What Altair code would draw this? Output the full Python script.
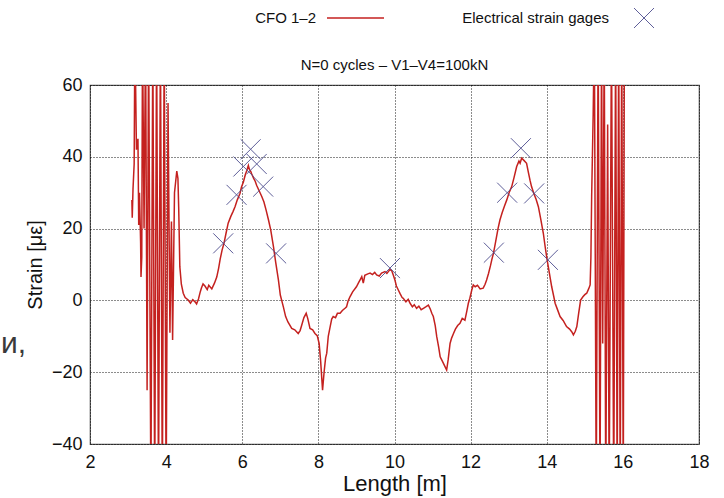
import altair as alt
import pandas as pd

# ---- data ----
length_m = [
    3.10, 3.11, 3.13, 3.16, 3.18, 3.22, 3.26, 3.28, 3.30, 3.33, 3.34, 3.36, 3.38, 3.42, 3.46, 3.50,
    3.54, 3.60, 3.65, 3.70, 3.75, 3.80, 3.85, 3.90, 3.95, 4.00, 4.05, 4.10, 4.14, 4.17, 4.22, 4.28,
    4.31, 4.33, 4.36, 4.40, 4.45, 4.50, 4.58, 4.64, 4.70, 4.76, 4.80, 4.85, 4.90, 4.93, 4.97, 5.02,
    5.08, 5.12, 5.20, 5.27, 5.33, 5.38, 5.42, 5.47, 5.52, 5.57, 5.63, 5.70, 5.76, 5.81, 5.87, 5.94,
    5.98, 6.03, 6.08, 6.12, 6.16, 6.19, 6.22, 6.25, 6.30, 6.34, 6.38, 6.44, 6.51, 6.57, 6.63, 6.69,
    6.75, 6.82, 6.88, 6.95, 7.00, 7.08, 7.14, 7.20, 7.30, 7.38, 7.47, 7.52, 7.56, 7.62, 7.68, 7.72,
    7.78, 7.85, 7.91, 7.97, 8.02, 8.06, 8.11, 8.15, 8.19, 8.22, 8.26, 8.31, 8.35, 8.39, 8.45, 8.50,
    8.57, 8.63, 8.70, 8.74, 8.78, 8.83, 8.90, 9.00, 9.06, 9.10, 9.14, 9.18, 9.22, 9.30, 9.36, 9.42,
    9.48, 9.53, 9.60, 9.66, 9.75, 9.80, 9.88, 9.93, 9.97, 10.01, 10.05, 10.10, 10.15, 10.20, 10.23, 10.30,
    10.36, 10.41, 10.47, 10.52, 10.58, 10.64, 10.70, 10.76, 10.82, 10.89, 10.94, 10.98, 11.02, 11.07, 11.11, 11.16,
    11.20, 11.26, 11.33, 11.37, 11.41, 11.46, 11.50, 11.55, 11.60, 11.66, 11.72, 11.78, 11.85, 11.90, 11.94, 11.98,
    12.03, 12.07, 12.12, 12.18, 12.25, 12.33, 12.38, 12.42, 12.47, 12.52, 12.56, 12.60, 12.66, 12.72, 12.77, 12.83,
    12.89, 12.95, 13.01, 13.08, 13.14, 13.21, 13.27, 13.30, 13.34, 13.40, 13.47, 13.52, 13.56, 13.60, 13.66, 13.72,
    13.78, 13.84, 13.91, 13.96, 14.01, 14.07, 14.13, 14.18, 14.22, 14.28, 14.35, 14.43, 14.52, 14.60, 14.66, 14.70,
    14.75, 14.79, 14.84, 14.89, 14.95, 15.00, 15.05, 15.10, 15.14, 15.16, 15.18, 15.22, 15.25, 15.30, 15.35, 15.40,
    15.44, 15.47, 15.51, 15.55, 15.60, 15.64, 15.70, 15.76, 15.81, 15.85, 15.89, 15.93, 15.97, 16.01, 16.04,
]
strain_cfo = [
    28, 23, 31, 38, 75, 42, 45, 21, 30, 16, 6.5, 12, 75, 20, 75, -25,
    75, -55, 75, -55, 75, -55, 75, -55, 75, -55, 55, -9, 22, -11, 30, 36,
    34, 26, 9.4, 4.5, 2.0, 0.8, 0.1, -0.8, 0.2, -0.4, -1.0, 0.4, 2.5, 3.5, 4.6, 4.0,
    3.0, 4.2, 3.2, 4.8, 6.5, 9.0, 11.5, 14.0, 15.9, 18.5, 21.5, 23.4, 24.8, 26.1, 28.0, 29.8,
    31.6, 33.0, 35.0, 36.2, 37.6, 36.4, 36.0, 35.2, 34.0, 33.2, 32.0, 30.6, 29.0, 27.4, 25.0, 22.4,
    19.5, 15.0, 10.5, 5.7, 1.5, -1.8, -4.5, -6.0, -7.8, -8.2, -9.2, -8.4, -7.0, -4.8, -3.6, -5.0,
    -7.8, -8.2, -9.2, -9.8, -12, -17, -25, -20, -16, -14.7, -10, -7.3, -5.2, -4.5, -4.8, -3.6,
    -3.6, -2.8, -2.2, -1.8, -0.2, 1.0, 2.4, 3.8, 5.0, 5.8, 6.6, 4.8, 7.0, 7.4, 7.6, 7.2,
    7.8, 7.1, 6.8, 7.6, 8.0, 7.5, 8.6, 8.2, 7.0, 5.7, 4.0, 2.9, 1.8, 0.8, 0.6, -0.4,
    0.3, -0.8, -1.8, -1.2, -2.2, -1.6, -2.6, -2.2, -1.8, -1.3, -2.4, -3.6, -4.5, -7.0, -10.1, -13.0,
    -15.7, -17.0, -18.5, -19.4, -16.5, -12.0, -10.5, -9.2, -8.0, -7.0, -6.4, -5.0, -5.5, -3.0, -0.8, 0.6,
    2.9, 4.3, 3.8, 4.2, 3.2, 3.4, 4.5, 5.7, 7.5, 9.6, 11.5, 13.1, 16.5, 20.0, 22.4, 24.5,
    26.3, 28.0, 30.0, 31.7, 34.2, 37.3, 38.8, 38.2, 39.6, 39.0, 38.2, 35.5, 33.5, 31.7, 29.8, 28.2,
    26.1, 22.8, 18.7, 14.8, 11.3, 7.5, 3.8, 1.3, -0.8, -2.5, -4.5, -5.6, -7.3, -8.0, -8.8, -9.6,
    -8.6, -7.3, -3.5, 0.1, 1.0, 1.6, 2.0, 3.2, 4.3, 12, 29, 52, 75, -55, 75, -55,
    75, -12, 75, -55, 49, -55, 75, -55, 75, -55, 75, -55, 75, -55, 75,
]

gage_length = [5.50, 5.85, 6.03, 6.22, 6.38, 6.55, 6.89, 9.88, 12.61, 12.96, 13.32, 13.67, 14.03]
gage_strain = [15.9, 29.4, 37.3, 42.1, 38.0, 31.7, 13.1, 9.0, 13.3, 30.0, 42.4, 29.8, 11.3]

x_ticks = [2, 4, 6, 8, 10, 12, 14, 16, 18]
y_ticks = [-40, -20, 0, 20, 40, 60]

title_text = "N=0 cycles \u2013 V1\u2013V4=100kN"
legend_line_label = "CFO 1\u20132"
legend_gage_label = "Electrical strain gages"
stray_text = ["\u0438,"]
stray_x = [-0.34]
stray_y = [-14.6]

FONT = "Liberation Sans"
RED = "#c4211f"
GAGE = "#4d4d8e"
XSHAPE = "M-1,-1L1,1M-1,1L1,-1"

cfo = pd.DataFrame({"Length": length_m, "Strain": strain_cfo, "order": list(range(len(length_m)))})
gages = pd.DataFrame({"Length": gage_length, "Strain": gage_strain})
stray = pd.DataFrame({"Length": stray_x, "Strain": stray_y, "t": stray_text})
one = pd.DataFrame({"a": [0]})

xscale = alt.Scale(domain=[2, 18], nice=False, zero=False)
yscale = alt.Scale(domain=[-40, 60], nice=False, zero=False)

xaxis = alt.Axis(values=x_ticks, title="Length [m]", grid=True, domain=False, ticks=False,
                 labelPadding=9, titlePadding=2, labelFontSize=18, titleFontSize=22,
                 labelFont=FONT, titleFont=FONT, titleFontWeight="normal",
                 labelColor="#111", titleColor="#111", gridColor="#000", gridDash=[1, 2],
                 gridOpacity=0.9, labelFlush=False)
yaxis = alt.Axis(values=y_ticks, title="Strain [\u03bc\u03b5]", grid=True, domain=False, ticks=False,
                 labelPadding=8, titlePadding=6, labelFontSize=18, titleFontSize=20,
                 labelFont=FONT, titleFont=FONT, titleFontWeight="normal",
                 labelColor="#111", titleColor="#111", gridColor="#000", gridDash=[1, 2],
                 gridOpacity=0.9, labelFlush=False)

line = alt.Chart(cfo).mark_line(color=RED, strokeWidth=1.5, clip=True).encode(
    x=alt.X("Length:Q", scale=xscale, axis=xaxis),
    y=alt.Y("Strain:Q", scale=yscale, axis=yaxis),
    order="order:Q",
)

pts = alt.Chart(gages).mark_point(shape=XSHAPE, filled=False, size=400, strokeWidth=1,
                                   color=GAGE, opacity=0.9).encode(
    x=alt.X("Length:Q", scale=xscale),
    y=alt.Y("Strain:Q", scale=yscale),
)

stray_mark = alt.Chart(stray).mark_text(align="left", baseline="alphabetic", fontSize=30,
                                        font=FONT, color="#3a3a3a").encode(
    x=alt.X("Length:Q", scale=xscale),
    y=alt.Y("Strain:Q", scale=yscale),
    text="t:N",
)

title = alt.Chart(one).mark_text(fontSize=15, font=FONT, color="#111", baseline="middle").encode(
    x=alt.value(304.5), y=alt.value(-20), text=alt.value(title_text))

leg_text1 = alt.Chart(one).mark_text(fontSize=15, font=FONT, color="#111", align="right",
                                     baseline="middle").encode(
    x=alt.value(226), y=alt.value(-67), text=alt.value(legend_line_label))
leg_line = alt.Chart(one).mark_rule(color=RED, strokeWidth=1.3).encode(
    x=alt.value(237), x2=alt.value(294), y=alt.value(-67))
leg_text2 = alt.Chart(one).mark_text(fontSize=15, font=FONT, color="#111", align="right",
                                     baseline="middle").encode(
    x=alt.value(519), y=alt.value(-67), text=alt.value(legend_gage_label))
leg_x = alt.Chart(one).mark_point(shape=XSHAPE, filled=False, size=400, strokeWidth=1,
                                  color=GAGE, opacity=0.9).encode(
    x=alt.value(554), y=alt.value(-67))

chart = alt.layer(line, pts, stray_mark, title, leg_text1, leg_line, leg_text2, leg_x).properties(
    width=609, height=359,
    autosize=alt.AutoSizeParams(type="none"),
    padding={"left": 90, "top": 85, "right": 25, "bottom": 54},
    background="white",
).configure_view(stroke="#555", strokeWidth=1.2)

chart.save("out.html", embed_options={"renderer": "svg", "actions": False})
